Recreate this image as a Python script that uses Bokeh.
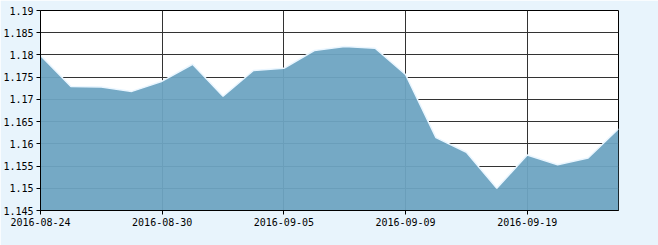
from bokeh.plotting import figure
from bokeh.models import ColumnDataSource, Range1d, FixedTicker
from bokeh.embed import file_html
from bokeh.resources import INLINE

dates = ["2016-08-24", "2016-08-25", "2016-08-26", "2016-08-29", "2016-08-30",
         "2016-08-31", "2016-09-01", "2016-09-02", "2016-09-05", "2016-09-06",
         "2016-09-07", "2016-09-08", "2016-09-09", "2016-09-12", "2016-09-13",
         "2016-09-14", "2016-09-19", "2016-09-20", "2016-09-21", "2016-09-22"]
values = [1.1799, 1.1729, 1.1728, 1.1718, 1.1741, 1.1779, 1.1707, 1.1765, 1.1770, 1.1810,
          1.1819, 1.1815, 1.1756, 1.1614, 1.1581, 1.1500, 1.1575, 1.1553, 1.1568, 1.1634]
x_tick_idx = [0, 4, 8, 12, 16]
y_ticks = [1.145, 1.15, 1.155, 1.16, 1.165, 1.17, 1.175, 1.18, 1.185, 1.19]
y_labels = ["1.145", "1.15", "1.155", "1.16", "1.165", "1.17", "1.175", "1.18", "1.185", "1.19"]
y_min, y_max = 1.145, 1.19

idx = list(range(len(dates)))
src = ColumnDataSource(dict(x=idx, y=values, base=[y_min] * len(idx)))

p = figure(width=658, height=245, output_backend="svg", toolbar_location=None,
           x_range=Range1d(0, len(dates) - 1), y_range=Range1d(y_min, y_max),
           min_border_left=38, min_border_right=40, min_border_top=10, min_border_bottom=35)
p.border_fill_color = "#E8F4FC"
p.background_fill_color = "#FFFFFF"
p.outline_line_color = "#000000"
p.outline_line_width = 1

p.varea(x="x", y1="base", y2="y", source=src, fill_color="#6EA4C2", fill_alpha=0.95)
p.line(x="x", y="y", source=src, line_color="#EAF6FF", line_width=1.5)

p.xaxis.ticker = FixedTicker(ticks=x_tick_idx)
p.xaxis.major_label_overrides = {i: dates[i] for i in x_tick_idx}
p.yaxis.ticker = FixedTicker(ticks=y_ticks)
p.yaxis.major_label_overrides = {t: l for t, l in zip(y_ticks, y_labels)}

for ax in (p.xaxis, p.yaxis):
    ax.axis_line_color = "#000000"
    ax.axis_line_width = 1
    ax.major_tick_line_color = "#000000"
    ax.major_tick_in = 0
    ax.major_tick_out = 4
    ax.minor_tick_line_color = None
    ax.major_label_text_font = "DejaVu Sans Mono"
    ax.major_label_text_font_size = "10px"
    ax.major_label_text_color = "#000000"
    ax.major_label_standoff = 3

p.xgrid.ticker = FixedTicker(ticks=x_tick_idx)
p.ygrid.ticker = FixedTicker(ticks=y_ticks)
p.grid.grid_line_color = "#333333"
p.grid.grid_line_width = 1

open("out.html", "w").write(file_html(p, INLINE))
